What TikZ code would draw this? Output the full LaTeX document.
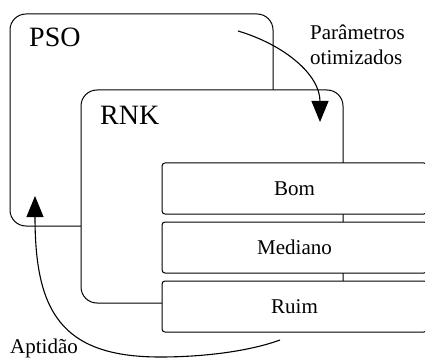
\documentclass[tikz,border=0pt]{standalone}
\usepackage{fontspec}
\setmainfont{LiberationSerif}[Extension=.ttf, UprightFont=*-Regular, BoldFont=*-Bold]
\usetikzlibrary{arrows.meta,positioning}

\begin{document}
\begin{tikzpicture}[
    x=1pt, y=-1pt,
    node distance=8pt,
    layer/.style={draw, fill=white, line width=1pt, rounded corners=16pt, minimum width=263pt, minimum height=212pt},
    rank/.style={draw, fill=white, line width=1pt, rounded corners=3pt, outer sep=0pt, minimum width=265pt, minimum height=51pt, font=\fontsize{21}{25}\selectfont},
    title/.style={anchor=base west, inner sep=0pt, font=\fontsize{28}{32}\selectfont},
    lbl/.style={anchor=base west, inner sep=0pt, align=left, font=\fontsize{21}{25}\selectfont},
    arrow/.style={-{Triangle[length=21pt,width=17pt]}, line width=1.1pt}
]
\clip (0,0) rectangle (425,358);
\node[layer] (pso) at (141.5,120) {};
\node[layer, minimum width=262pt, minimum height=213pt] (rnk) at (212,196.5) {};
\node[rank] (bom) at (294.5,188.5) {Bom};
\node[rank, below=of bom] (mediano) {Mediano};
\node[rank, below=of mediano] (ruim) {Ruim};
\node[title] (pso-lbl) at (29,47) {PSO};
\node[title] (rnk-lbl) at (100,125) {RNK};
\node[lbl] (param) at (310,65) {Parâmetros\\otimizados};
\node[lbl] (aptidao) at (10,353) {Aptidão};
% ligacoes
\coordinate (pso-out) at (238,31);
\coordinate (rnk-in) at (320,122);
\coordinate (ruim-out) at (280,340);
\coordinate (low) at (160,357);
\coordinate (pso-in) at (35,196);
\draw[arrow] (pso-out) .. controls (285,45) and (320,75) .. (rnk-in);
\draw[arrow] (ruim-out) .. controls (250,351) and (205,357) .. (low) .. controls (60,357) and (35,310) .. (pso-in);
\end{tikzpicture}
\end{document}
